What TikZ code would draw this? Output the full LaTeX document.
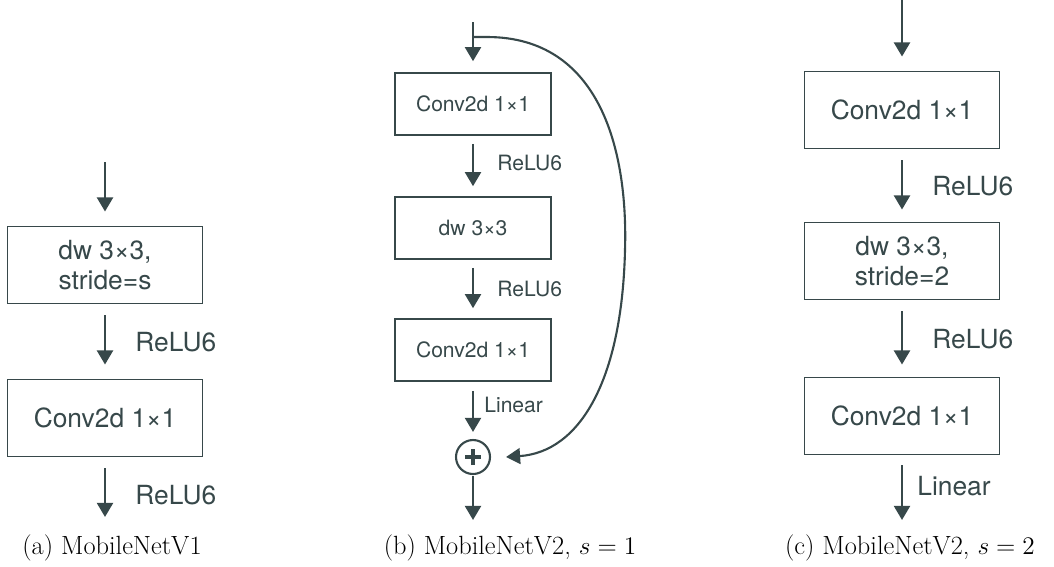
\documentclass[tikz,border=0pt]{standalone}
\usepackage{fontspec}
\newfontfamily\helv{TeX Gyre Heros}
\usetikzlibrary{arrows.meta}
\definecolor{slate}{HTML}{37484A}
\begin{document}
\begin{tikzpicture}[x=0.02cm,y=-0.02cm,
  block/.style={draw=slate, line width=1.1pt, fill=white, minimum width=3.9cm, minimum height=1.54cm,
    align=center, text=slate, font=\helv\fontsize{15}{17}\selectfont},
  smallblock/.style={block, line width=0.9pt, minimum width=3.12cm, minimum height=1.24cm,
    font=\helv\fontsize{12}{14}\selectfont},
  flow/.style={draw=slate, line width=1.5pt, -{Triangle[length=8pt,width=9pt]}},
  act/.style={anchor=west, inner sep=0pt, text=slate, font=\helv\fontsize{15}{17}\selectfont},
  smallact/.style={act, font=\helv\fontsize{12}{14}\selectfont},
  caption/.style={inner sep=0pt, font=\fontsize{15}{18}\selectfont}]
\useasboundingbox (0,0) rectangle (1054,566);
\coordinate (ain) at (105,162);
\node[block] (adw) at (105,265){dw 3×3,\\stride=s};
\node[block] (apw) at (105,418){Conv2d 1×1};
\coordinate (aout) at (105,517);
\draw[flow, shorten >=14*0.02cm] (ain) -- (adw);
\draw[flow, shorten <=11*0.02cm, shorten >=14*0.02cm] (adw) -- (apw);
\draw[flow, shorten <=11*0.02cm] (apw) -- (aout);
\node[act] (arelua) at (135,342){ReLU6};
\node[act] (arelub) at (135,495){ReLU6};
\node[caption] (acap) at (112,548){(a) MobileNetV1};
\coordinate (bin) at (473,22);
\coordinate (bskip) at (473,37);
\node[smallblock] (bexp) at (473,104){Conv2d 1×1};
\node[smallblock] (bdw) at (473,228){dw 3×3};
\node[smallblock] (bproj) at (473,350){Conv2d 1×1};
\node[circle, draw=slate, line width=1.2pt, minimum size=0.68cm, inner sep=0pt] (badd) at (473,457){};
\draw[draw=slate, line width=1.8pt] ([xshift=-8*0.02cm]badd.center) -- ([xshift=8*0.02cm]badd.center)
  ([yshift=-8*0.02cm]badd.center) -- ([yshift=8*0.02cm]badd.center);
\coordinate (bout) at (473,520);
\draw[flow, shorten >=11*0.02cm] (bin) -- (bexp);
\draw[flow, shorten <=8*0.02cm, shorten >=10*0.02cm] (bexp) -- (bdw);
\draw[flow, shorten <=8*0.02cm, shorten >=10*0.02cm] (bdw) -- (bproj);
\draw[flow, shorten <=9*0.02cm, shorten >=7*0.02cm] (bproj) -- (badd);
\draw[flow, shorten <=1*0.02cm] (badd) -- (bout);
\draw[flow, line width=1.2pt] (bskip) -- (487,37) .. controls (600,37) and (628,150) .. (625,250)
  .. controls (622,380) and (580,452) .. ([xshift=15*0.02cm]badd.east);
\node[smallact] (brelua) at (497,163){ReLU6};
\node[smallact] (brelub) at (497,289){ReLU6};
\node[smallact] (blin) at (484,405){Linear};
\node[caption] (bcap) at (510,548){(b) MobileNetV2, $s=1$};
\coordinate (cin) at (902,0);
\node[block] (cexp) at (902,110){Conv2d 1×1};
\node[block] (cdw) at (902,261){dw 3×3,\\stride=2};
\node[block] (cproj) at (902,416){Conv2d 1×1};
\coordinate (cout) at (902,520);
\draw[flow, shorten >=14*0.02cm] (cin) -- (cexp);
\draw[flow, shorten <=11*0.02cm, shorten >=12*0.02cm] (cexp) -- (cdw);
\draw[flow, shorten <=11*0.02cm, shorten >=12*0.02cm] (cdw) -- (cproj);
\draw[flow, shorten <=10*0.02cm] (cproj) -- (cout);
\node[act] (crelua) at (932,186){ReLU6};
\node[act] (crelub) at (932,339){ReLU6};
\node[act] (clin) at (917,486){Linear};
\node[caption] (ccap) at (910,548){(c) MobileNetV2, $s=2$};
\end{tikzpicture}
\end{document}
